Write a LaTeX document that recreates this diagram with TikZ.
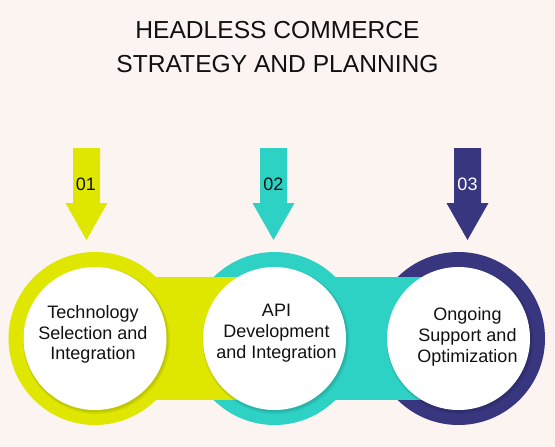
\documentclass[tikz,border=0pt]{standalone}
\usepackage{fontspec}
\setmainfont{Liberation Sans}
\definecolor{bg}{HTML}{FCF4F1}
\definecolor{cyel}{HTML}{DFE700}
\definecolor{cteal}{HTML}{2DD2C4}
\definecolor{cnavy}{HTML}{38367F}
\definecolor{ink}{HTML}{111111}
\tikzset{
  ring/.style={circle, inner sep=0pt, minimum size=173pt},
  disc/.style={circle, inner sep=0pt, minimum size=143pt, fill=white},
  shade/.style={circle, inner sep=0pt, minimum size=143pt, fill=black},
  steptext/.style={align=center, font=\fontsize{18}{20.8}\selectfont, text=ink},
  numtext/.style={font=\fontsize{18}{20}\selectfont},
}
\newcommand{\downarrowshape}[3]{% x center, color, name
  \fill[#2] (#1-13.5,148) -- (#1+13.5,148) -- (#1+13.5,203) -- (#1+21,203)
    -- (#1,240) -- (#1-21,203) -- (#1-13.5,203) -- cycle;
  \coordinate (#3) at (#1,240);
}
\begin{document}
\begin{tikzpicture}[x=1pt,y=-1pt]
\fill[bg] (0,0) rectangle (555,447);
\useasboundingbox (0,0) rectangle (555,447);
\node[align=center, font=\fontsize{24.6}{34}\selectfont, text=ink] (title) at (277.5,47)
  {HEADLESS COMMERCE\\STRATEGY AND PLANNING};
% arrows
\downarrowshape{86.5}{cyel}{t1}
\downarrowshape{273.5}{cteal}{t2}
\downarrowshape{467.5}{cnavy}{t3}
\node[numtext, text=ink] (n1) at (86,184) {01};
\node[numtext, text=ink] (n2) at (273.5,184) {02};
\node[numtext, text=white] (n3) at (467.5,184) {03};
% rings
\node[ring, fill=cyel] (o1) at (95,338.5) {};
\node[ring, fill=cteal] (o2) at (274.5,338.5) {};
\node[ring, fill=cnavy] (o3) at (458.5,338.5) {};
% bands
\fill[cyel] (95,277) rectangle (274.5,400);
\fill[cteal] (274.5,277) rectangle (458.5,400);
% shadows
\foreach \c in {95,274.5,458.5}{
  \node[shade, opacity=0.06, minimum size=147pt] at (\c+1.5,340.5) {};
  \node[shade, opacity=0.08, minimum size=145pt] at (\c+1,339.8) {};
}
% discs
\node[disc] (d1) at (95,338.5) {};
\node[disc] (d2) at (274.5,338.5) {};
\node[disc] (d3) at (458.5,338.5) {};
\node[steptext] (s1) at (93,334.5) {Technology\\Selection and\\Integration};
\node[steptext] (s2) at (276.5,333) {API\\Development\\and Integration};
\node[steptext] (s3) at (467.5,337) {Ongoing\\Support and\\Optimization};
\end{tikzpicture}
\end{document}
